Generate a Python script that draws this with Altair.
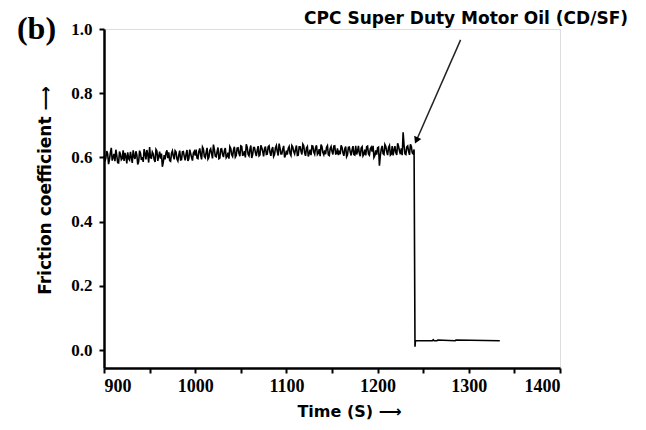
import altair as alt
import pandas as pd

# noisy friction data: even seconds 900..1240 and odd seconds 901..1239
mu_even = [
    0.605,0.598,0.612,0.594,0.630,0.601,0.588,0.606,0.583,0.610,0.597,0.589,0.604,0.616,0.592,0.600,0.622,0.595,0.608,0.587,0.613,0.601,0.626,0.594,0.609,0.632,0.598,0.611,0.586,0.620,0.603,
    0.596,0.571,0.607,0.615,0.598,0.590,0.612,0.604,0.621,0.595,0.608,0.592,0.617,0.603,0.610,0.589,0.624,0.600,0.614,0.606,
    0.598,0.619,0.607,0.632,0.603,0.615,0.595,0.622,0.611,0.640,0.604,0.618,0.596,0.626,0.610,0.621,0.599,0.615,0.634,0.608,
    0.623,0.601,0.629,0.612,0.636,0.607,0.620,0.641,0.610,0.625,0.598,0.631,0.615,0.622,0.605,0.638,0.619,0.627,0.609,0.633,0.616,0.624,0.603,0.630,0.618,0.643,0.611,0.626,0.600,0.621,
    0.628,0.612,0.637,0.618,0.625,0.606,0.633,0.620,0.641,0.614,0.629,0.603,0.624,0.636,0.617,0.630,0.609,0.626,0.640,0.615,0.622,0.632,0.608,0.627,0.619,0.635,0.611,0.628,0.621,0.638,
    0.614,0.626,0.602,0.631,0.617,0.623,0.609,0.636,0.620,0.612,0.629,0.605,0.624,0.633,0.611,0.627,0.618,0.600,0.622,0.630,
    0.574,0.626,0.612,0.640,0.618,0.631,0.607,0.635,0.623,0.615,0.644,0.620,0.628,0.678,0.611,0.633,0.619,0.641,0.614,0.625,
]
mu_odd = [
    0.587,0.620,0.579,0.615,0.590,0.611,0.624,0.584,0.618,0.593,0.622,0.614,0.581,0.596,0.617,0.583,0.603,0.619,0.578,0.621,0.592,0.586,0.612,0.623,0.584,0.599,0.617,0.593,0.625,0.589,
    0.618,0.612,0.585,0.594,0.622,0.616,0.588,0.620,0.594,0.617,0.589,0.621,0.593,0.618,0.591,0.623,0.596,0.612,0.590,0.619,
    0.624,0.596,0.628,0.594,0.626,0.599,0.630,0.600,0.627,0.597,0.625,0.602,0.631,0.598,0.627,0.601,0.629,0.603,0.596,0.628,
    0.603,0.633,0.606,0.630,0.604,0.634,0.608,0.600,0.632,0.605,0.637,0.609,0.631,0.604,0.635,0.608,0.630,0.603,0.634,0.610,0.636,0.605,0.632,0.609,0.637,0.606,0.629,0.611,0.636,0.607,
    0.609,0.634,0.606,0.632,0.611,0.637,0.607,0.633,0.609,0.636,0.605,0.634,0.612,0.607,0.635,0.610,0.638,0.613,0.604,0.633,0.608,0.610,0.637,0.606,0.634,0.609,0.636,0.612,0.607,0.610,
    0.631,0.605,0.634,0.608,0.632,0.606,0.635,0.607,0.609,0.636,0.604,0.633,0.610,0.606,0.635,0.607,0.632,0.636,0.606,0.609,
    0.632,0.606,0.636,0.609,0.634,0.607,0.637,0.610,0.606,0.635,0.608,0.634,0.610,0.607,0.638,0.609,0.636,0.608,0.634,0.611,
]
# after the drop
t_low = [1241, 1241.5, 1243, 1260, 1261, 1262, 1265, 1266, 1285, 1286, 1334]
mu_low = [0.010, 0.029, 0.029, 0.029, 0.032, 0.029, 0.029, 0.031, 0.029, 0.031, 0.029]

x_major = [900, 1000, 1100, 1200, 1300, 1400]
x_minor = [950, 1050, 1150, 1250, 1350]
y_major = [0.0, 0.2, 0.4, 0.6, 0.8, 1.0]
y_minor = [0.1, 0.3, 0.5, 0.7, 0.9]

annot_text = "CPC Super Duty Motor Oil (CD/SF)"
annot_pos = [1297, 1.03]
arrow_start = [1291, 0.966]
arrow_tip = [1243, 0.656]
panel_label = "(b)"
panel_pos = [826, 1.0]

times = ([900 + 2 * i for i in range(len(mu_even))]
         + [901 + 2 * i for i in range(len(mu_odd))] + t_low)
mus = mu_even + mu_odd + mu_low
df = pd.DataFrame({"t": times, "mu": mus}).sort_values("t")

xs = alt.Scale(domain=[900, 1400], nice=False, zero=False)
ys = alt.Scale(domain=[-0.056, 1.0], nice=False, zero=False)

lab_font = "Liberation Serif"
tit_font = "DejaVu Sans"

x_vals = sorted(x_major + x_minor)
y_vals = sorted(y_major + y_minor)
x_major_js = "[" + ",".join(str(v) for v in x_major) + "]"
y_major_js = "[" + ",".join(str(int(round(v * 10))) for v in y_major) + "]"

line = alt.Chart(df).mark_line(color="black", strokeWidth=1.6, clip=False).encode(
    x=alt.X("t:Q", scale=xs, axis=alt.Axis(
        values=x_vals, labelExpr=f"indexof({x_major_js}, datum.value) >= 0 ? format(datum.value, 'd') : ''",
        title="Time (S)  ⟶", grid=False, domainWidth=2.5, domainColor="black",
        tickSize=5, tickWidth=2, tickColor="black", labelFont=lab_font, labelFontSize=18,
        labelFontWeight="bold", labelColor="black", labelPadding=4, labelOverlap=False,
        titleFont=tit_font, titleFontSize=16, titleFontWeight="bold", titleColor="black",
        titleX=245, titlePadding=8)),
    y=alt.Y("mu:Q", scale=ys, axis=alt.Axis(
        values=y_vals,
        labelExpr=f"indexof({y_major_js}, round(datum.value * 10)) >= 0 ? format(datum.value, '.1f') : ''",
        title="Friction coefficient  ⟶", grid=False,
        domainWidth=2.5, domainColor="black", tickSize=5, tickWidth=2, tickColor="black",
        labelFont=lab_font, labelFontSize=17, labelFontWeight="bold", labelColor="black",
        labelPadding=7, labelOverlap=False, titleFont=tit_font, titleFontSize=17,
        titleFontWeight="bold", titleColor="black", titleY=161, titlePadding=16)),
    order="t:Q",
)

arrow_df = pd.DataFrame({"x": [arrow_start[0]], "y": [arrow_start[1]],
                         "x2": [arrow_tip[0]], "y2": [arrow_tip[1]]})
arrow_line = alt.Chart(arrow_df).mark_rule(color="#222", strokeWidth=1.5, clip=False).encode(
    x=alt.X("x:Q", scale=xs), y=alt.Y("y:Q", scale=ys), x2="x2:Q", y2="y2:Q")
arrow_head = alt.Chart(arrow_df).mark_point(shape="triangle", filled=True, color="black",
                                            size=60, angle=204, opacity=1, clip=False).encode(
    x=alt.X("x2:Q", scale=xs), y=alt.Y("y2:Q", scale=ys))

annot = alt.Chart(pd.DataFrame({"x": [annot_pos[0]], "y": [annot_pos[1]], "s": [annot_text]})).mark_text(
    font=tit_font, fontSize=17, fontWeight="bold", color="black", clip=False).encode(
    x=alt.X("x:Q", scale=xs), y=alt.Y("y:Q", scale=ys), text="s:N")

plab = alt.Chart(pd.DataFrame({"x": [panel_pos[0]], "y": [panel_pos[1]], "s": [panel_label]})).mark_text(
    font=lab_font, fontSize=32, fontWeight="bold", color="black", clip=False).encode(
    x=alt.X("x:Q", scale=xs), y=alt.Y("y:Q", scale=ys), text="s:N")

chart = alt.layer(line, arrow_line, arrow_head, annot, plab).properties(
    width=456, height=339,
    autosize=alt.AutoSizeParams(type="none"),
    padding={"left": 96, "top": 21, "right": 78, "bottom": 54},
).configure_view(stroke=None).configure(background="white")

chart.save("out.html", embed_options={"renderer": "svg", "actions": False})
